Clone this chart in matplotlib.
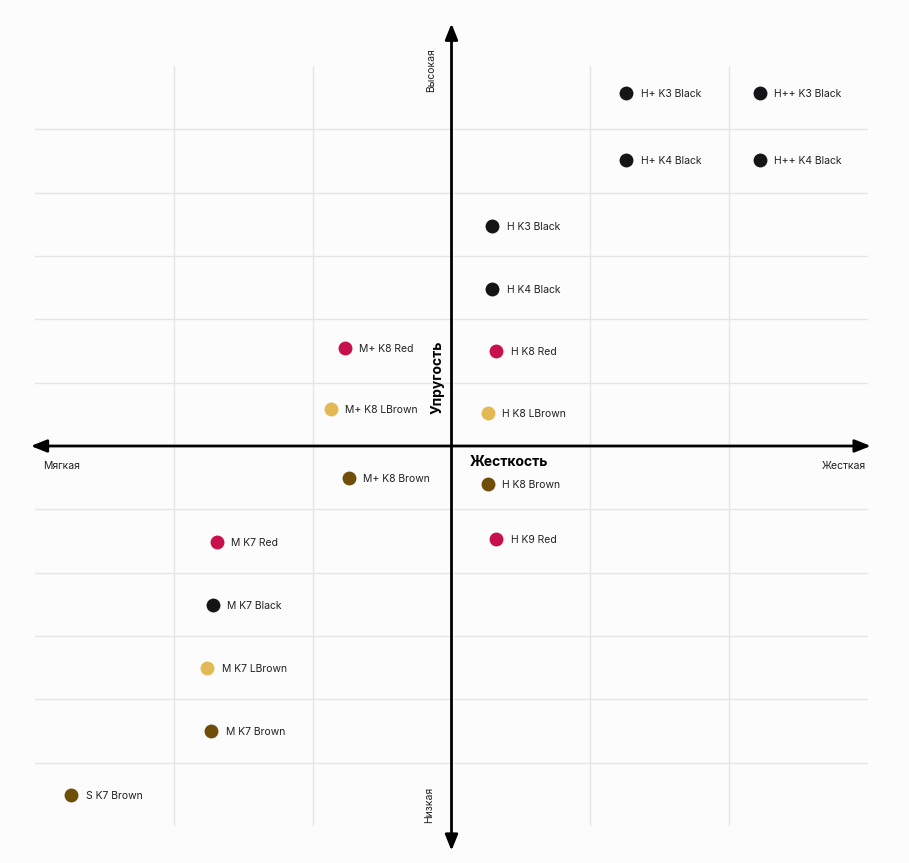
import matplotlib
matplotlib.use("Agg")
import matplotlib.pyplot as plt

plt.rcParams['font.family'] = ['Inter', 'DejaVu Sans']

labels = ["H+ K3 Black", "H++ K3 Black", "H+ K4 Black", "H++ K4 Black",
          "H K3 Black", "H K4 Black", "M+ K8 Red", "H K8 Red",
          "M+ K8 LBrown", "H K8 LBrown", "M+ K8 Brown", "H K8 Brown",
          "H K9 Red", "M K7 Red", "M K7 Black", "M K7 LBrown",
          "M K7 Brown", "S K7 Brown"]
stiffness = [1.26, 2.22, 1.26, 2.22,
             0.295, 0.295, -0.77, 0.32,
             -0.87, 0.26, -0.74, 0.26,
             0.32, -1.69, -1.72, -1.76,
             -1.73, -2.74]
elasticity = [5.58, 5.58, 4.52, 4.52,
              3.48, 2.48, 1.55, 1.50,
              0.58, 0.52, -0.51, -0.60,
              -1.47, -1.52, -2.51, -3.51,
              -4.50, -5.51]
colour_names = ["Black", "Black", "Black", "Black",
                "Black", "Black", "Red", "Red",
                "LBrown", "LBrown", "Brown", "Brown",
                "Red", "Red", "Black", "LBrown",
                "Brown", "Brown"]
palette = {"Black": "#151518", "Red": "#c8104c",
           "LBrown": "#e2b955", "Brown": "#6e4e08"}

W, H = 909, 863
fig = plt.figure(figsize=(W / 100, H / 100), dpi=100, facecolor="#fcfcfc")
ax = fig.add_axes([35 / W, 1 - 826 / H, (868 - 35) / W, (826 - 66) / H])
ax.set_facecolor("#fcfcfc")
ax.set_xlim(-3, 3)
ax.set_ylim(-6, 6)
ax.set_xticks([-2, -1, 1, 2])
ax.set_yticks([-5, -4, -3, -2, -1, 1, 2, 3, 4, 5])
ax.grid(True, color="#e6e6e6", linewidth=1)
ax.tick_params(length=0, labelbottom=False, labelleft=False)
for s in ax.spines.values():
    s.set_visible(False)
ax.set_axisbelow(True)

# axes arrows
ax.annotate("", xy=(3.02, 0), xytext=(-3.03, 0),
            arrowprops=dict(arrowstyle="<|-|>,head_length=0.95,head_width=0.38",
                            color="black", lw=2, shrinkA=0, shrinkB=0),
            annotation_clip=False)
ax.annotate("", xy=(0, 6.67), xytext=(0, -6.39),
            arrowprops=dict(arrowstyle="<|-|>,head_length=0.95,head_width=0.38",
                            color="black", lw=2, shrinkA=0, shrinkB=0),
            annotation_clip=False)

for x, y, lab, c in zip(stiffness, elasticity, labels, colour_names):
    ax.scatter(x, y, s=100, color=palette[c], zorder=3, linewidths=0)
    ax.annotate(lab, (x, y), xytext=(10.5, -0.8), textcoords="offset points",
                va="center", ha="left", fontsize=7.5, color="#222222")

ax.text(-2.94, -0.315, "Мягкая", fontsize=7.5, color="#222222", va="center", ha="left")
ax.text(2.985, -0.315, "Жесткая", fontsize=7.5, color="#222222", va="center", ha="right")
ax.text(0.13, -0.25, "Жесткость", fontsize=10, fontweight="bold", va="center", ha="left")
ax.text(-0.10, 1.08, "Упругость", fontsize=10, fontweight="bold", va="center",
        ha="center", rotation=90)
ax.text(-0.145, 5.93, "Высокая", fontsize=7.5, color="#222222", va="center",
        ha="center", rotation=90, clip_on=False)
ax.text(-0.16, -5.66, "Низкая", fontsize=7.5, color="#222222", va="center",
        ha="center", rotation=90, clip_on=False)

fig.savefig("out.png", dpi=100, facecolor=fig.get_facecolor())
